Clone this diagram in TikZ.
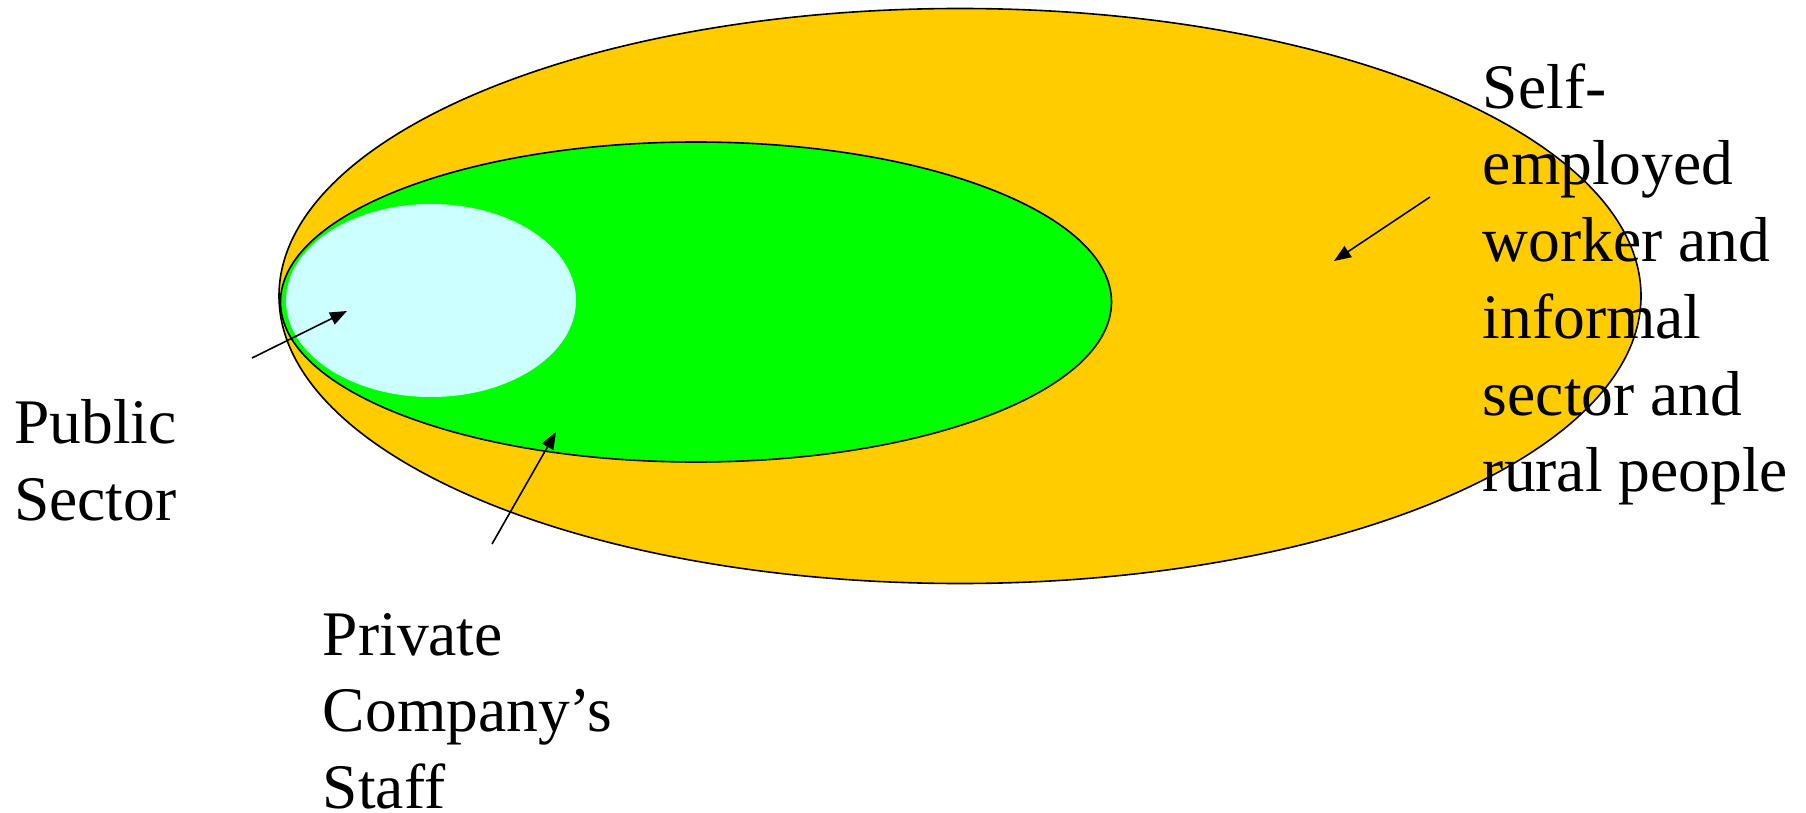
\documentclass[tikz,border=0pt]{standalone}
\usepackage{fontspec}
\setmainfont{Liberation Serif}
\usetikzlibrary{shapes.geometric,arrows.meta}
\definecolor{outerfill}{HTML}{FFCC00}
\definecolor{midfill}{HTML}{00FF00}
\definecolor{innerfill}{HTML}{CCFFFF}
\tikzset{
  blob/.style={ellipse, inner sep=0pt, outer sep=0pt},
  pointer/.style={line width=1.6pt, -{Triangle[length=17pt,width=13pt]}},
  lbl/.style={inner sep=0pt, anchor=base west, font=\fontsize{63.5}{76.7}\selectfont}
}
\begin{document}
\begin{tikzpicture}[x=1pt,y=-1pt]
\useasboundingbox (0,0) rectangle (1806,813);
\node[blob, fill=outerfill, draw=black, line width=1.6pt, minimum width=1362pt, minimum height=575pt] (outer) at (960,296) {};
\node[blob, fill=midfill, draw=black, line width=1.6pt, minimum width=831pt, minimum height=320pt] (private) at (696,302) {};
\node[blob, fill=innerfill, minimum width=290pt, minimum height=193pt] (public) at (431,300.5) {};

\coordinate (pubtail) at (252,358);
\coordinate (pubtip) at (347,311);
\coordinate (privtail) at (492,544);
\coordinate (privtip) at (556,432);
\coordinate (selftail) at (1430,197);
\coordinate (selftip) at (1334,261);
\draw[pointer] (pubtail) -- (pubtip);
\draw[pointer] (privtail) -- (privtip);
\draw[pointer] (selftail) -- (selftip);

\node[lbl] (publbl) at (14,443.3) {\begin{tabular}[t]{@{}l@{}}Public\\Sector\end{tabular}};
\node[lbl] (privlbl) at (322.7,655) {\begin{tabular}[t]{@{}l@{}}Private\\Company’s\\Staff\end{tabular}};
\node[lbl] (selflbl) at (1482.7,108.3) {\begin{tabular}[t]{@{}l@{}}Self-\\employed\\worker and\\informal\\sector and\\rural people\end{tabular}};
\end{tikzpicture}
\end{document}
